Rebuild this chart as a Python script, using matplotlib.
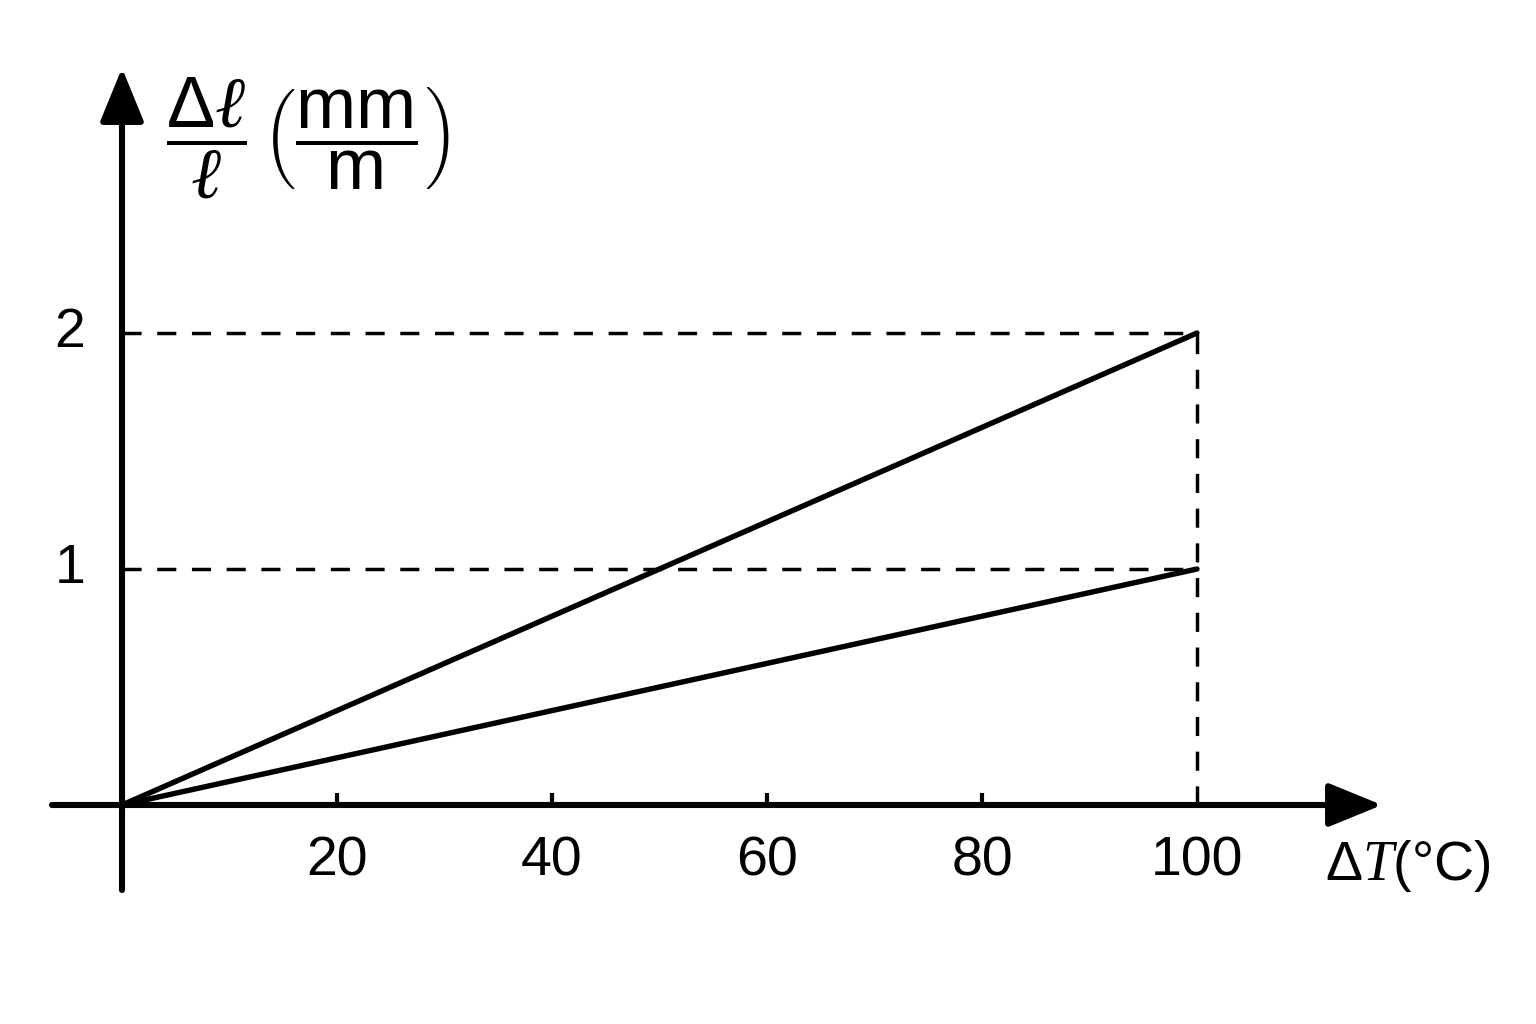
import matplotlib
matplotlib.use("Agg")
from matplotlib import pyplot as plt

# ------------------------------
# Data
# ------------------------------
temps = [0, 100]
steep = [0, 2]
shallow = [0, 1]
x_ticks = [20, 40, 60, 80, 100]
y_ticks = [1, 2]

plt.rcParams['font.family'] = ['Liberation Sans', 'DejaVu Sans']
plt.rcParams['mathtext.fontset'] = 'custom'
plt.rcParams['mathtext.rm'] = 'Liberation Sans'
plt.rcParams['mathtext.it'] = 'Liberation Serif:italic'
plt.rcParams['mathtext.cal'] = 'DejaVu Sans'

# pixel layout of the original: origin at (122, 805), 10.75 px per degree, 236 px per unit
W, H = 1536, 1024
ox, oy = 122, 805
sx, sy = 10.75, 236.0

fig = plt.figure(figsize=(W / 100, H / 100), dpi=100)
ax = fig.add_axes([0, 0, 1, 1])
ax.set_xlim(-ox / sx, (W - ox) / sx)
ax.set_ylim((oy - H) / sy, oy / sy)
ax.axis('off')

# axes with arrows
arrow = dict(arrowstyle='-|>,head_length=1.1,head_width=0.45', mutation_scale=30,
             lw=4.4, color='black', shrinkA=0, shrinkB=0)
ax.annotate('', xy=((1382 - ox) / sx, 0), xytext=((52 - ox) / sx, 0), arrowprops=arrow)
ax.annotate('', xy=(0, (oy - 68) / sy), xytext=(0, (oy - 890) / sy), arrowprops=arrow)

# guide lines
dash = dict(color='black', lw=2.5, ls=(0, (5.5, 4.5)))
ax.plot([0, temps[-1]], [steep[-1], steep[-1]], **dash)
ax.plot([0, temps[-1]], [shallow[-1], shallow[-1]], **dash)
ax.plot([temps[-1], temps[-1]], [0, steep[-1]], **dash)

# the two expansion lines
ax.plot(temps, steep, color='black', lw=3.9, solid_capstyle='round')
ax.plot(temps, shallow, color='black', lw=3.9, solid_capstyle='round')

# tick marks and labels
ax.vlines(x_ticks[:-1], 0, 12 / sy, color='black', lw=3)
for t in x_ticks:
    ax.text(t, (oy - 862) / sy, str(t), ha='center', va='center', fontsize=40)
for t in y_ticks:
    ax.text((70 - ox) / sx, t, str(t), ha='center', va='center', fontsize=40)

# axis titles
ax.text((166 - ox) / sx, (oy - 138) / sy,
        r'$\dfrac{\Delta\ell}{\ell}\,\left(\dfrac{\mathrm{mm}}{\mathrm{m}}\right)$',
        ha='left', va='center', fontsize=52)
ax.text((1325 - ox) / sx, (oy - 866) / sy, r'$\Delta\mathit{T}$(°C)',
        ha='left', va='center', fontsize=40)

fig.savefig('out.png', dpi=100)
